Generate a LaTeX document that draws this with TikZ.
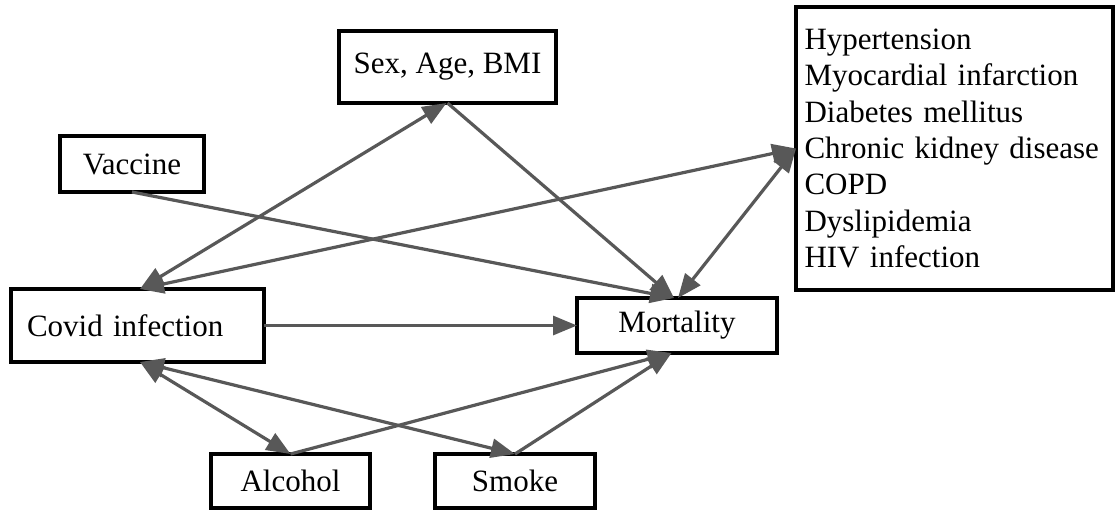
\documentclass[tikz,border=0pt]{standalone}
\usepackage{fontspec}
\setmainfont{Liberation Serif}
\usetikzlibrary{arrows.meta,calc}
\definecolor{arrgray}{RGB}{88,88,88}
\begin{document}
\begin{tikzpicture}[x=0.5pt,y=-0.5pt,
  >={Triangle[length=12pt,width=9.5pt]},
  box/.style={draw=black,line width=1.8pt,fill=white,anchor=north west,inner sep=0pt,outer sep=0pt,font=\fontsize{15.5}{18.2}\selectfont},
  link/.style={draw=arrgray,line width=1.6pt,->},
  both/.style={draw=arrgray,line width=1.6pt,<->}]
\useasboundingbox (0,0) rectangle (1115,510);
\node[box,minimum width=108.5pt,minimum height=36pt] (sex) at (339,31) {Sex, Age, BMI};
\node[box,minimum width=72pt,minimum height=28pt] (vac) at (60,136) {Vaccine};
\node[box,minimum width=158.5pt,minimum height=141.5pt,text width=150pt,align=left] (com) at (796,7) {Hypertension\\Myocardial infarction\\Diabetes mellitus\\Chronic kidney disease\\COPD\\Dyslipidemia\\HIV infection};
\node[box,minimum width=126.5pt,minimum height=36.5pt,text width=110.5pt,align=left] (cov) at (11,289) {Covid infection};
\node[box,minimum width=100pt,minimum height=27.5pt] (mor) at (577,298) {Mortality};
\node[box,minimum width=79.5pt,minimum height=27pt] (alc) at (211,454) {Alcohol};
\node[box,minimum width=80pt,minimum height=27pt] (smk) at (435,454) {Smoke};
\draw[link] (cov.east) -- (cov.east -| mor.west);
\draw[both] ([xshift=64.5pt]cov.north west) -- ([xshift=-0.5pt]sex.south);
\draw[both] ([xshift=64.5pt]cov.north west) -- (com.west);
\draw[link] (vac.south) -- ([xshift=-1.5pt]mor.north);
\draw[link] (sex.south) -- ([xshift=-1.5pt]mor.north);
\draw[both] (com.west) -- ([xshift=0.5pt]mor.north);
\draw[both] ([xshift=64.5pt]cov.south west) -- (alc.north);
\draw[both] ([xshift=64.5pt]cov.south west) -- (smk.north);
\draw[link] (alc.north) -- ([xshift=-2.75pt]mor.south);
\draw[link] (smk.north) -- ([xshift=-2.75pt]mor.south);
\end{tikzpicture}
\end{document}
